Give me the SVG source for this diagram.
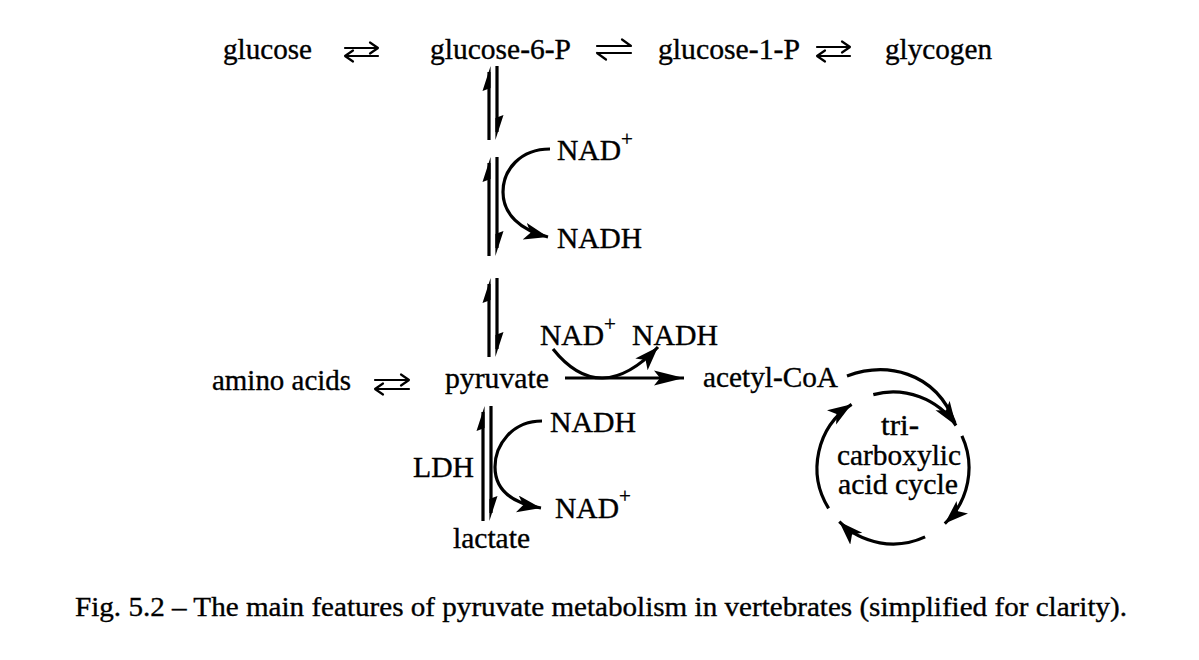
<svg xmlns="http://www.w3.org/2000/svg" width="1199" height="660" viewBox="0 0 1199 660">
<style>
text{font-family:"Liberation Serif","Times New Roman",serif;font-size:29px;fill:#000;stroke:#000;stroke-width:0.35}
.sup{font-size:21px}
.cap{font-size:28px}
.ln{fill:none;stroke:#000;stroke-width:3.2}
.eq{fill:none;stroke:#000;stroke-width:2.2;stroke-linecap:round;stroke-linejoin:round}
.hh{fill:#000;stroke:none}
</style>
<defs>
<marker id="ah" markerUnits="userSpaceOnUse" markerWidth="26" markerHeight="18" refX="24" refY="8.5" orient="auto" viewBox="0 0 26 18">
<path d="M0,0 L24,8.5 L0,17 L6,8.5 z" fill="#000"/>
</marker>
<marker id="ahl" markerUnits="userSpaceOnUse" markerWidth="32" markerHeight="18" refX="30" refY="8.5" orient="auto" viewBox="0 0 32 18">
<path d="M0,1 L30,8.5 L0,16 L6,8.5 z" fill="#000"/>
</marker>
</defs>

<g id="glucose"><text x="223" y="59" textLength="89" lengthAdjust="spacingAndGlyphs">glucose</text></g>
<g id="glucose-6-P"><text x="430" y="59" textLength="141" lengthAdjust="spacingAndGlyphs">glucose-6-P</text></g>
<g id="glucose-1-P"><text x="658" y="59" textLength="142" lengthAdjust="spacingAndGlyphs">glucose-1-P</text></g>
<g id="glycogen"><text x="885" y="59" textLength="107" lengthAdjust="spacingAndGlyphs">glycogen</text></g>
<g id="nad-top"><text x="557" y="160" textLength="64" lengthAdjust="spacingAndGlyphs">NAD</text><text class="sup" x="621" y="146">+</text></g>
<g id="nadh-top"><text x="557" y="248" textLength="85" lengthAdjust="spacingAndGlyphs">NADH</text></g>
<g id="nad-mid"><text x="540" y="345" textLength="64" lengthAdjust="spacingAndGlyphs">NAD</text><text class="sup" x="604" y="331">+</text></g>
<g id="nadh-mid"><text x="632" y="345" textLength="86" lengthAdjust="spacingAndGlyphs">NADH</text></g>
<g id="amino-acids"><text x="212" y="390" textLength="139" lengthAdjust="spacingAndGlyphs">amino acids</text></g>
<g id="pyruvate"><text x="445" y="388" textLength="104" lengthAdjust="spacingAndGlyphs">pyruvate</text></g>
<g id="acetyl-CoA"><text x="703" y="387" textLength="135" lengthAdjust="spacingAndGlyphs">acetyl-CoA</text></g>
<g id="nadh-low"><text x="550" y="432" textLength="86" lengthAdjust="spacingAndGlyphs">NADH</text></g>
<g id="LDH"><text x="413" y="477" textLength="61" lengthAdjust="spacingAndGlyphs">LDH</text></g>
<g id="nad-low"><text x="555" y="518" textLength="64" lengthAdjust="spacingAndGlyphs">NAD</text><text class="sup" x="619" y="503">+</text></g>
<g id="lactate"><text x="453" y="548" textLength="77" lengthAdjust="spacingAndGlyphs">lactate</text></g>
<g id="tca">
<text x="900" y="435" text-anchor="middle" textLength="38" lengthAdjust="spacingAndGlyphs">tri-</text>
<text x="899" y="465" text-anchor="middle" textLength="124" lengthAdjust="spacingAndGlyphs">carboxylic</text>
<text x="898" y="494" text-anchor="middle" textLength="120" lengthAdjust="spacingAndGlyphs">acid cycle</text>
</g>
<g id="caption"><text class="cap" x="75" y="616" textLength="1052" lengthAdjust="spacingAndGlyphs">Fig. 5.2 – The main features of pyruvate metabolism in vertebrates (simplified for clarity).</text></g>

<g id="connectors">
<path class="eq" d="M345,48 H378 M370,42.5 L378,48 L370,53.5 M345,56 H378 M353,50.5 L345,56 L353,61.5"/>
<path class="eq" d="M597,46 H631 L622,39.5 M597,53 H631 M597,53 L606,59.5"/>
<path class="eq" d="M817,47 H850 M842,41.5 L850,47 L842,52.5 M817,56 H850 M825,50.5 L817,56 L825,61.5"/>
<path class="eq" d="M375,380 H409 M401,374.5 L409,380 L401,385.5 M375,389 H409 M383,383.5 L375,389 L383,394.5"/>

<g id="v1">
<path class="ln" d="M489,72 V140 M497,66 V132"/>
<path class="hh" d="M490.6,66 L482.5,91 L490.6,88 z M495.4,140 L503.5,115 L495.4,118 z"/>
</g>
<g id="v2">
<path class="ln" d="M489,163 V256 M497,157 V248"/>
<path class="hh" d="M490.6,157 L482.5,182 L490.6,179 z M495.4,256 L503.5,231 L495.4,234 z"/>
</g>
<g id="v3">
<path class="ln" d="M489,284 V357 M497,278 V349"/>
<path class="hh" d="M490.6,278 L482.5,303 L490.6,300 z M495.4,357 L503.5,332 L495.4,335 z"/>
</g>
<g id="v4">
<path class="ln" d="M483,412 V521 M491,406 V513"/>
<path class="hh" d="M484.6,406 L476.5,431 L484.6,428 z M489.4,521 L497.5,496 L489.4,499 z"/>
</g>

<path class="ln" d="M550,149 C520,149 503,170 503,192 C503,214 520,230 548,237" marker-end="url(#ah)"/>
<path class="ln" d="M542,421 C512,421 495,445 495,467 C495,490 512,503 541,508" marker-end="url(#ah)"/>
<path class="ln" d="M565,378 H684" marker-end="url(#ahl)"/>
<path class="ln" d="M553,349 Q600,408 658,347" marker-end="url(#ah)"/>

<path class="ln" d="M847,376 C885,362 935,370 955,423"/>
<path class="ln" d="M873.3,394.6 A76,76 0 0 1 956,425.5" marker-end="url(#ah)"/>
<path class="ln" d="M961.9,435.9 A76,76 0 0 1 944.8,523.6" marker-end="url(#ah)"/>
<path class="ln" d="M925.1,536.9 A76,76 0 0 1 839.3,521.7" marker-end="url(#ah)"/>
<path class="ln" d="M828.6,508.3 A76,76 0 0 1 851.6,404.3" marker-end="url(#ah)"/>
</g>
</svg>
